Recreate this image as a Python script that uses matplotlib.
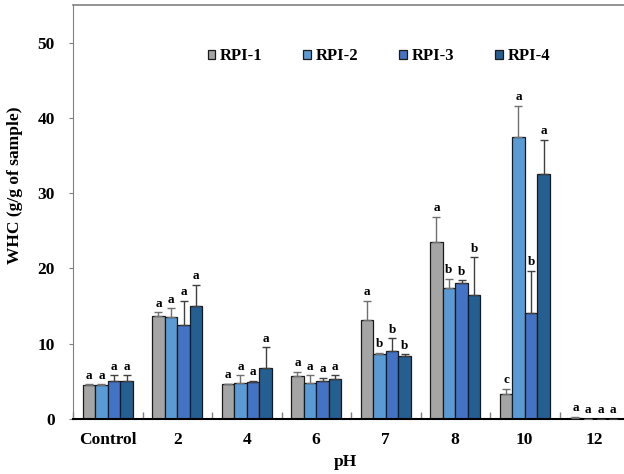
import matplotlib
matplotlib.use("Agg")
import matplotlib.pyplot as plt
import numpy as np

categories = ["Control", "2", "4", "6", "7", "8", "10", "12"]
series = ["RPI-1", "RPI-2", "RPI-3", "RPI-4"]

rpi1 = [4.5, 13.7, 4.6, 5.7, 13.2, 23.5, 3.3, 0.1]
rpi2 = [4.5, 13.5, 4.8, 4.8, 8.7, 17.4, 37.5, 0.0]
rpi3 = [5.0, 12.5, 4.9, 5.0, 9.1, 18.1, 14.1, 0.0]
rpi4 = [5.1, 15.0, 6.8, 5.3, 8.4, 16.5, 32.6, 0.0]

err1 = [0.1, 0.5, 0.1, 0.6, 2.5, 3.4, 0.7, 0.2]
err2 = [0.1, 1.2, 1.0, 1.0, 0.1, 1.2, 4.1, 0.0]
err3 = [0.8, 3.2, 0.2, 0.5, 1.6, 0.3, 5.6, 0.0]
err4 = [0.7, 2.8, 2.7, 0.5, 0.2, 5.0, 4.5, 0.0]

let1 = ["a", "a", "a", "a", "a", "a", "c", "a"]
let2 = ["a", "a", "a", "a", "b", "b", "a", "a"]
let3 = ["a", "a", "a", "a", "b", "b", "b", "a"]
let4 = ["a", "a", "a", "a", "b", "b", "a", "a"]

colors = ["#A5A5A5", "#5B9BD5", "#4472C4", "#255E91"]
errcolors = ["#707070", "#707070", "#404040", "#404040"]

plt.rcParams["font.family"] = ["Liberation Serif", "DejaVu Serif"]
plt.rcParams["font.weight"] = "bold"

fig = plt.figure(figsize=(6.24, 4.74), dpi=100)
ax = fig.add_axes([73/624, 55/474, 556/624, 414/474])

values = [rpi1, rpi2, rpi3, rpi4]
errs = [err1, err2, err3, err4]
letters = [let1, let2, let3, let4]
x = np.arange(len(categories))
w = 0.18
for i in range(4):
    pos = x + (i - 1.5) * w
    v = np.array(values[i])
    e = np.array(errs[i])
    ax.bar(pos, v, width=w, color=colors[i], edgecolor="#1a1a1a",
           linewidth=0.9, label=series[i], zorder=2)
    ax.errorbar(pos, v, yerr=[np.zeros_like(e), e], fmt="none",
                ecolor=errcolors[i], elinewidth=1.0, capsize=3, capthick=1.0, zorder=3)
    for xi, top, lab in zip(pos, v + e, letters[i]):
        ax.annotate(lab, (xi, top), xytext=(0, 4), textcoords="offset points",
                    ha="center", va="baseline", fontsize=9.5, fontweight="bold")

ax.set_xlim(-0.5, len(categories) - 0.5)
ax.set_ylim(0, 55)
ax.set_yticks([0, 10, 20, 30, 40, 50])
ax.set_xticks(x)
ax.set_xticklabels(categories)
ax.set_xticks(np.arange(-0.5, len(categories), 1.0), minor=True)
ax.tick_params(axis="x", which="major", length=0, pad=9, labelsize=12.5)
ax.tick_params(axis="x", which="minor", direction="in", length=5, color="#808080", width=1)
ax.tick_params(axis="y", which="major", direction="out", length=3, color="#808080",
               labelsize=12.5, pad=10)

for lab in ax.get_xticklabels() + ax.get_yticklabels():
    lab.set_fontweight("bold")

ax.spines["left"].set_color("#808080")
ax.spines["top"].set_color("#808080")
ax.spines["top"].set_linewidth(1.2)
ax.spines["bottom"].set_color("#000000")
ax.spines["bottom"].set_linewidth(1.5)
ax.spines["right"].set_visible(False)

ax.set_ylabel("WHC (g/g of sample)", fontsize=12.5, fontweight="bold")
ax.yaxis.set_label_coords((23 - 73) / 556, (419 - 185) / 414)
ax.set_xlabel("pH", fontsize=12.5, fontweight="bold")
ax.xaxis.set_label_coords((345 - 73) / 556, -0.085)

leg = ax.legend(loc="upper left", bbox_to_anchor=(0.215, 0.932), ncol=4, frameon=False,
                handlelength=0.45, handleheight=0.45, handletextpad=0.3, columnspacing=2.45,
                prop={"size": 12, "weight": "bold"})

fig.savefig("out.png", dpi=100)
